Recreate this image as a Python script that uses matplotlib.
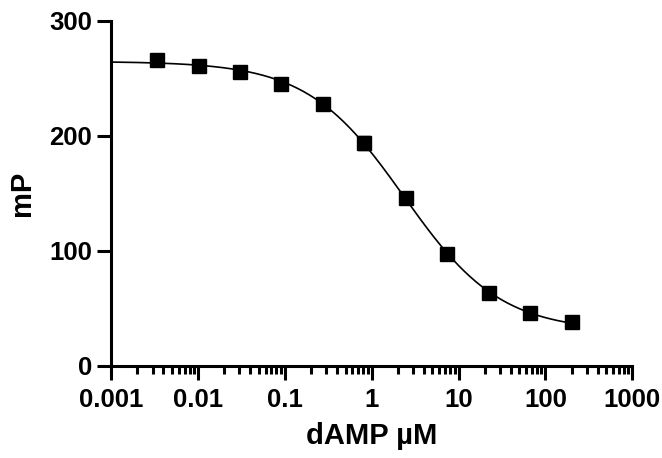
import matplotlib.pyplot as plt
import numpy as np

plt.rcParams['font.family'] = ['Liberation Sans', 'DejaVu Sans']
plt.rcParams['font.weight'] = 'bold'

# dAMP concentration (uM), 3-fold dilutions
conc = [0.00339, 0.0102, 0.0305, 0.0914, 0.274, 0.823, 2.47, 7.41, 22.2, 66.7, 200]
mp = [266.2, 260.8, 255.4, 245.0, 227.6, 193.7, 145.9, 97.3, 63.4, 46.0, 38.2]
mp_sd = [2, 2, 2, 2, 2, 6, 3, 2, 2, 2, 2]

x_ticks = [0.001, 0.01, 0.1, 1, 10, 100, 1000]
x_ticklabels = ['0.001', '0.01', '0.1', '1', '10', '100', '1000']
y_ticks = [0, 100, 200, 300]

# 4-parameter logistic fit (grid on IC50/hill, linear lstsq for top/bottom)
x = np.array(conc)
y = np.array(mp)
best = None
for logic in np.linspace(-1, 1.5, 251):
    for h in np.linspace(0.5, 1.5, 101):
        f = 1 / (1 + (x / 10 ** logic) ** h)
        A = np.column_stack([1 - f, f])
        coef, res, _, _ = np.linalg.lstsq(A, y, rcond=None)
        err = np.sum((A @ coef - y) ** 2)
        if best is None or err < best[0]:
            best = (err, logic, h, coef)
_, logic, h, (bottom, top) = best
xs = np.logspace(-3, np.log10(200), 400)
ys = bottom + (top - bottom) / (1 + (xs / 10 ** logic) ** h)

fig = plt.figure(figsize=(6.62, 4.58), dpi=100)
ax = fig.add_axes([0.168, 0.201, 0.787, 0.754])

ax.plot(xs, ys, color='black', lw=1.2)
ax.errorbar(conc, mp, yerr=mp_sd, fmt='s', color='black', ms=9.5,
            capsize=4.5, elinewidth=1, capthick=1)

ax.set_xscale('log')
ax.set_xlim(0.001, 1000)
ax.set_ylim(0, 300)
ax.set_xticks(x_ticks)
ax.set_xticklabels(x_ticklabels)
ax.set_yticks(y_ticks)
ax.minorticks_on()
ax.yaxis.set_minor_locator(plt.NullLocator())

for s in ['top', 'right']:
    ax.spines[s].set_visible(False)
for s in ['left', 'bottom']:
    ax.spines[s].set_linewidth(2.2)

ax.tick_params(which='major', length=10, width=2.2, labelsize=18.5)
ax.tick_params(axis='x', which='major', pad=6)
ax.tick_params(axis='y', which='major', pad=4)
ax.tick_params(which='minor', length=6, width=2.2)

ax.set_xlabel('dAMP µM', fontsize=21, fontweight='bold', labelpad=7)
ax.set_ylabel('mP', fontsize=21, fontweight='bold', labelpad=9)

fig.savefig('out.png', dpi=100)
